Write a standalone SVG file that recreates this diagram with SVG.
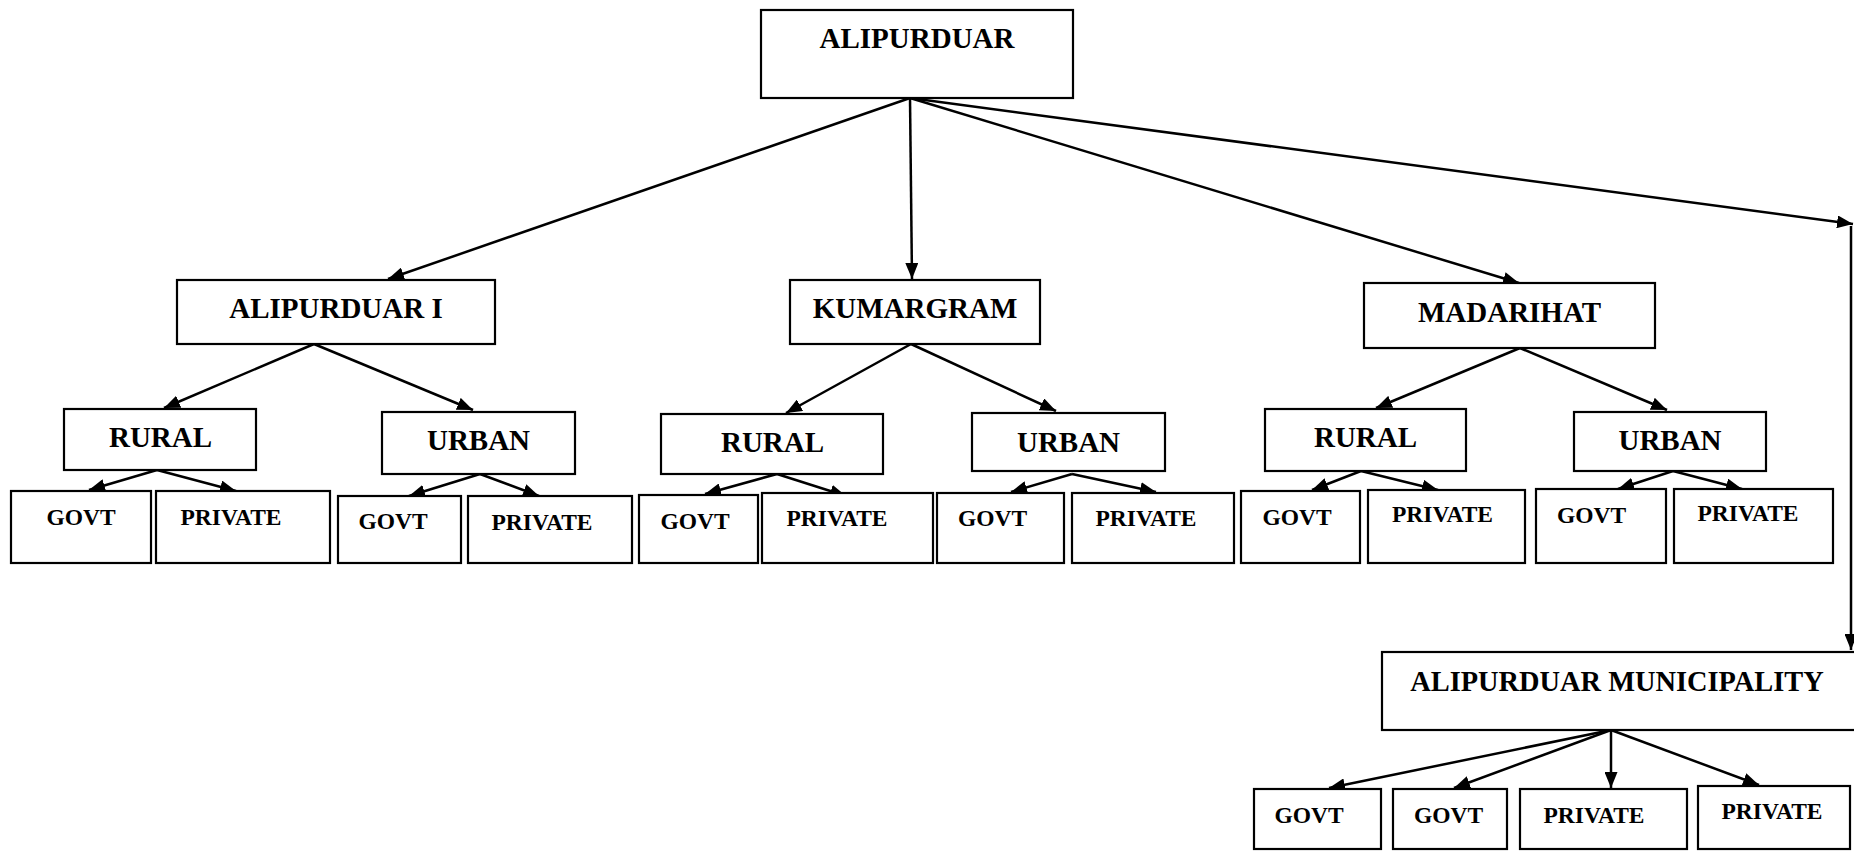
<svg xmlns="http://www.w3.org/2000/svg" width="1854" height="851" viewBox="0 0 1854 851">
<style>
rect.b{fill:#fff;stroke:#000;stroke-width:2.2}
text{font-family:"Liberation Serif","Times New Roman",serif;font-weight:bold;fill:#000;text-anchor:middle}
.l{font-size:29px}
.s{font-size:23.5px}
#connectors line{stroke:#000;stroke-width:2.5;marker-end:url(#ah)}
</style>
<defs>
<marker id="ah" viewBox="0 0 16 13" refX="16" refY="6.5" markerWidth="16" markerHeight="13" markerUnits="userSpaceOnUse" orient="auto">
<path d="M0,0 L16,6.5 L0,13 z" fill="#000"/>
</marker>
</defs>
<rect width="1854" height="851" fill="#fff"/>

<g id="connectors">
<line x1="910" y1="98" x2="388" y2="279"/>
<line x1="910" y1="98" x2="912" y2="279"/>
<line x1="910" y1="98" x2="1519" y2="283"/>
<line x1="910" y1="98" x2="1853" y2="224"/>
<line x1="1851" y1="226" x2="1851" y2="650"/>
<line x1="314" y1="344" x2="164" y2="408"/>
<line x1="314" y1="344" x2="473" y2="410"/>
<line x1="157" y1="470" x2="89" y2="490"/>
<line x1="157" y1="470" x2="236" y2="491"/>
<line x1="480" y1="474" x2="409" y2="496"/>
<line x1="480" y1="474" x2="539" y2="496"/>
<line x1="911" y1="344" x2="786" y2="413"/>
<line x1="911" y1="344" x2="1056" y2="411"/>
<line x1="777" y1="474" x2="705" y2="494"/>
<line x1="777" y1="474" x2="846" y2="496"/>
<line x1="1072" y1="474" x2="1011" y2="492"/>
<line x1="1072" y1="474" x2="1156" y2="492"/>
<line x1="1520" y1="348" x2="1376" y2="408"/>
<line x1="1520" y1="348" x2="1667" y2="410"/>
<line x1="1361" y1="471" x2="1312" y2="490"/>
<line x1="1361" y1="471" x2="1438" y2="490"/>
<line x1="1673" y1="471" x2="1618" y2="489"/>
<line x1="1673" y1="471" x2="1742" y2="489"/>
<line x1="1611" y1="730" x2="1329" y2="788"/>
<line x1="1611" y1="730" x2="1454" y2="788"/>
<line x1="1611" y1="730" x2="1611" y2="788"/>
<line x1="1611" y1="730" x2="1759" y2="785"/>
</g>

<g id="alipurduar"><rect class="b" x="761" y="10" width="312" height="88"/><text class="l" x="917" y="48">ALIPURDUAR</text></g>

<g id="alipurduar-i"><rect class="b" x="177" y="280" width="318" height="64"/><text class="l" x="336" y="318">ALIPURDUAR I</text></g>
<g id="a1-rural"><rect class="b" x="64" y="409" width="192" height="61"/><text class="l" x="160.5" y="447">RURAL</text></g>
<g id="a1-urban"><rect class="b" x="382" y="412" width="193" height="62"/><text class="l" x="478.5" y="450">URBAN</text></g>
<g id="a1-rural-govt"><rect class="b" x="11" y="491" width="140" height="72"/><text class="s" x="81" y="525">GOVT</text></g>
<g id="a1-rural-private"><rect class="b" x="156" y="491" width="174" height="72"/><text class="s" x="231" y="525">PRIVATE</text></g>
<g id="a1-urban-govt"><rect class="b" x="338" y="496" width="123" height="67"/><text class="s" x="393" y="529">GOVT</text></g>
<g id="a1-urban-private"><rect class="b" x="468" y="496" width="164" height="67"/><text class="s" x="542" y="530">PRIVATE</text></g>

<g id="kumargram"><rect class="b" x="790" y="280" width="250" height="64"/><text class="l" x="915" y="318">KUMARGRAM</text></g>
<g id="k-rural"><rect class="b" x="661" y="414" width="222" height="60"/><text class="l" x="772.5" y="452">RURAL</text></g>
<g id="k-urban"><rect class="b" x="972" y="413" width="193" height="58"/><text class="l" x="1068.5" y="452">URBAN</text></g>
<g id="k-rural-govt"><rect class="b" x="639" y="495" width="119" height="68"/><text class="s" x="695" y="529">GOVT</text></g>
<g id="k-rural-private"><rect class="b" x="762" y="493" width="171" height="70"/><text class="s" x="837" y="526">PRIVATE</text></g>
<g id="k-urban-govt"><rect class="b" x="937" y="493" width="127" height="70"/><text class="s" x="992.5" y="526">GOVT</text></g>
<g id="k-urban-private"><rect class="b" x="1072" y="493" width="162" height="70"/><text class="s" x="1146" y="526">PRIVATE</text></g>

<g id="madarihat"><rect class="b" x="1364" y="283" width="291" height="65"/><text class="l" x="1509.5" y="322">MADARIHAT</text></g>
<g id="m-rural"><rect class="b" x="1265" y="409" width="201" height="62"/><text class="l" x="1365.5" y="447">RURAL</text></g>
<g id="m-urban"><rect class="b" x="1574" y="412" width="192" height="59"/><text class="l" x="1670" y="450">URBAN</text></g>
<g id="m-rural-govt"><rect class="b" x="1241" y="491" width="119" height="72"/><text class="s" x="1297" y="525">GOVT</text></g>
<g id="m-rural-private"><rect class="b" x="1368" y="490" width="157" height="73"/><text class="s" x="1442.5" y="522">PRIVATE</text></g>
<g id="m-urban-govt"><rect class="b" x="1536" y="489" width="130" height="74"/><text class="s" x="1591.5" y="523">GOVT</text></g>
<g id="m-urban-private"><rect class="b" x="1674" y="489" width="159" height="74"/><text class="s" x="1748" y="521">PRIVATE</text></g>

<g id="municipality"><rect class="b" x="1382" y="652" width="480" height="78"/><text class="l" x="1617" y="691" style="font-size:28.4px">ALIPURDUAR MUNICIPALITY</text></g>
<g id="mun-govt-1"><rect class="b" x="1254" y="789" width="127" height="60"/><text class="s" x="1309" y="823">GOVT</text></g>
<g id="mun-govt-2"><rect class="b" x="1393" y="789" width="114" height="60"/><text class="s" x="1448.5" y="823">GOVT</text></g>
<g id="mun-private-1"><rect class="b" x="1520" y="789" width="167" height="60"/><text class="s" x="1594" y="823">PRIVATE</text></g>
<g id="mun-private-2"><rect class="b" x="1698" y="786" width="152" height="63"/><text class="s" x="1772" y="819">PRIVATE</text></g>
</svg>
